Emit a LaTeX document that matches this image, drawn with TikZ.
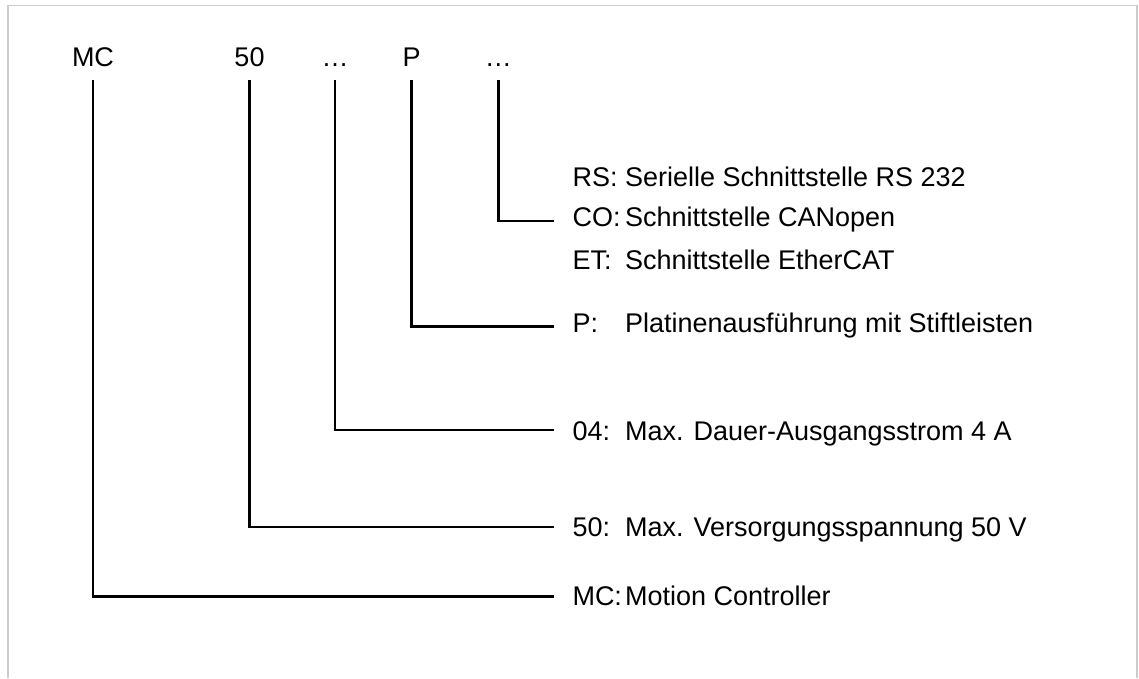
\documentclass[tikz,border=0pt]{standalone}
\usepackage{fontspec}
\setmainfont{Liberation Sans}
\begin{document}
\begin{tikzpicture}[x=1pt,y=-1pt,
  lbl/.style={inner sep=0pt,outer sep=0pt,font=\fontsize{27}{32}\selectfont},
  top/.style={lbl,anchor=base},
  code/.style={lbl,anchor=base west},
  desc/.style={lbl,anchor=base west},
  conn/.style={draw=black,line width=2.5pt,line join=miter},
  frame/.style={draw=black!20,line width=1.6pt}]
\useasboundingbox (0,0) rectangle (1139,678);
% frame
\draw[frame] (7.7,678) -- (7.7,5.5) -- (1136.8,5.5) -- (1136.8,678);
% top labels
\node[top] (tMC) at (93,66) {MC};
\node[top] (t50) at (249.5,66) {50};
\node[top] (tD1) at (335,66) {…};
\node[top] (tP)  at (411.7,66) {P};
\node[top] (tD2) at (498.3,66) {…};
% code labels
\node[code] (cRS) at (572.5,186.5) {RS:};
\node[code] (cCO) at (572.5,226.7) {CO:};
\node[code] (cET) at (572.5,269) {ET:};
\node[code] (cP)  at (572.5,332) {P:};
\node[code] (c04) at (572.5,440.7) {04:};
\node[code] (c50) at (572.5,536.7) {50:};
\node[code] (cMC) at (572.5,605) {MC:};
% descriptions
\node[desc] (dRS) at (625,186.5) {Serielle Schnittstelle RS 232};
\node[desc] (dCO) at (625,226.7) {Schnittstelle CANopen};
\node[desc] (dET) at (625,269) {Schnittstelle EtherCAT};
\node[desc] (dP)  at (625,332) {Platinenausführung mit Stiftleisten};
\node[desc] (d04) at (625,440.7) {Max. Dauer-Ausgangsstrom 4 A};
\node[desc] (d50) at (625,536.7) {Max. Versorgungsspannung 50 V};
\node[desc] (dMC) at (625,605) {Motion Controller};
% connector endpoints
\coordinate (sMC) at (tMC.base |- 0,80);
\coordinate (s50) at (t50.base |- 0,80);
\coordinate (sD1) at (tD1.base |- 0,80);
\coordinate (sP)  at (tP.base |- 0,80);
\coordinate (sD2) at (tD2.base |- 0,80);
\coordinate (eMC) at (554,596.7);
\coordinate (e50) at (554,527);
\coordinate (e04) at (554,430);
\coordinate (eP)  at (554,326.7);
\coordinate (eCO) at (554,221);
% connectors
\draw[conn] (sMC) |- (eMC);
\draw[conn] (s50) |- (e50);
\draw[conn] (sD1) |- (e04);
\draw[conn] (sP)  |- (eP);
\draw[conn] (sD2) |- (eCO);
\end{tikzpicture}
\end{document}
